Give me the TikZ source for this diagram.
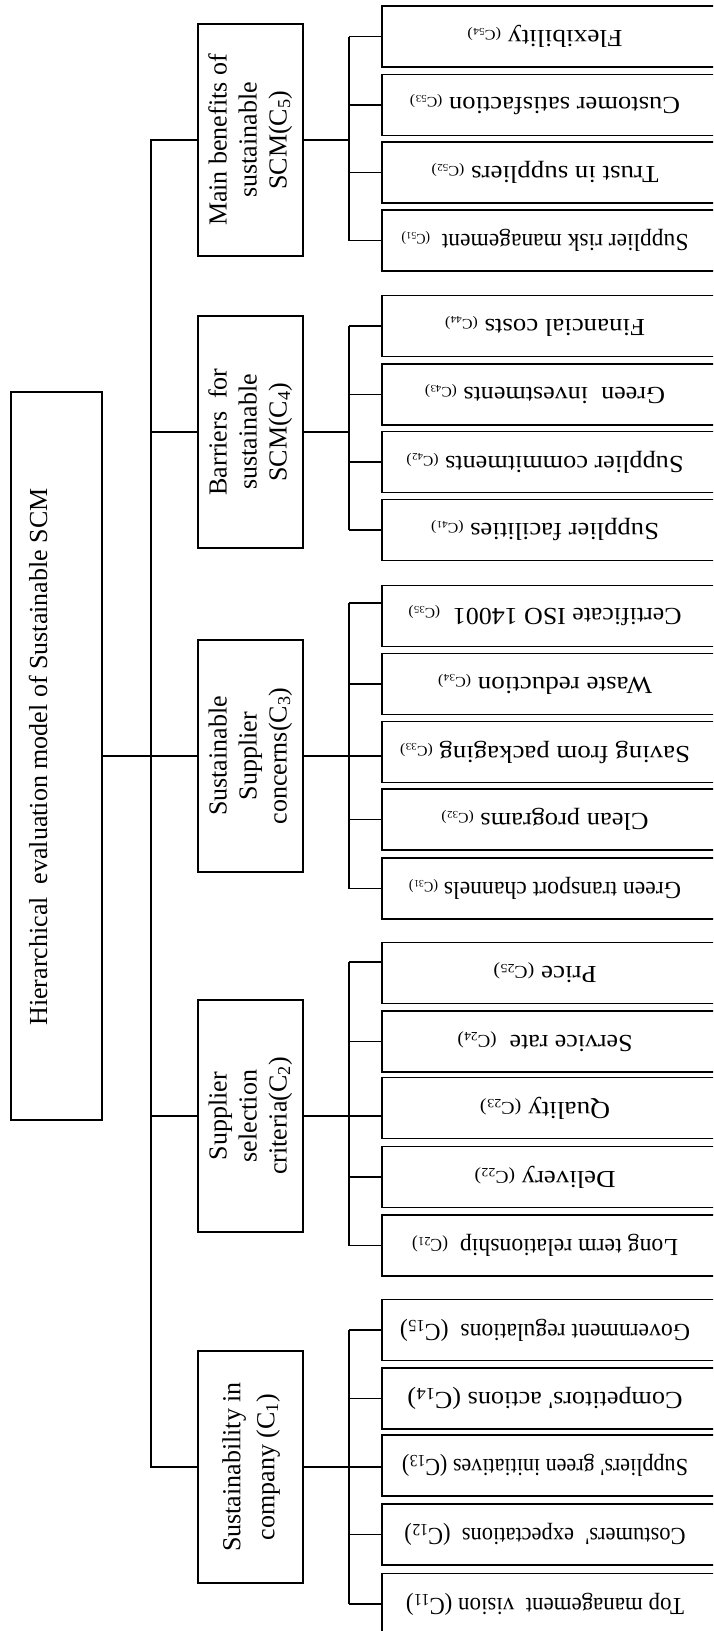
\documentclass[tikz,border=0pt]{standalone}
\usepackage{fontspec}
\setmainfont{Liberation Serif}
\newfontfamily\leaffont{Liberation Serif}
\usetikzlibrary{calc}
\newcommand{\lbA}[1]{(C\textsubscript{#1})}
\newcommand{\lbB}[1]{{\fontsize{18}{18}\selectfont(C\textsubscript{#1})}}
\newcommand{\lbC}[1]{{\fontsize{14.5}{14.5}\selectfont(C\textsubscript{#1})}}
\newcommand{\leaftxt}[2]{\resizebox{#1pt}{\height}{\leaffont\fontsize{24.5}{24.5}\selectfont #2}}
\newcommand{\cattxt}[1]{\rotatebox{90}{\begin{tabular}{@{}c@{}}#1\end{tabular}}}
\begin{document}
\begin{tikzpicture}[x=1pt,y=-1pt,
  box/.style={draw, line width=1.8pt, inner sep=0pt},
  rootbox/.style={box, minimum width=91pt, minimum height=728pt},
  catbox/.style={box, minimum width=105pt, minimum height=232pt, font=\fontsize{26}{30}\selectfont},
  catboxtwo/.style={catbox, font=\fontsize{26}{34}\selectfont},
  leafbox/.style={box, minimum width=340pt, minimum height=61pt},
  leaftext/.style={rotate=180, inner sep=0pt},
  roottext/.style={rotate=90, inner sep=0pt, font=\fontsize{26}{30}\selectfont},
  conn/.style={line width=1.8pt}]
\useasboundingbox (0,0) rectangle (713,1631);
\fill[white] (0,0) rectangle (713,1631);
\clip (0,0) rectangle (713,1631);

% root
\node[rootbox] (root) at (56.5,756) {};
\node[roottext] (roottxt) at (38,757) {Hierarchical\ \ evaluation model of Sustainable SCM};

% categories
\node[catbox] (c5) at (250.5,140) {\cattxt{Main benefits of\\sustainable\\SCM(C\textsubscript{5})}};
\node[catbox] (c4) at (250.5,432) {\cattxt{Barriers\ \ for\\sustainable\\SCM(C\textsubscript{4})}};
\node[catbox] (c3) at (250.5,756) {\cattxt{Sustainable\\Supplier\\concerns(C\textsubscript{3})}};
\node[catbox] (c2) at (250.5,1116) {\cattxt{Supplier\\selection\\criteria(C\textsubscript{2})}};
\node[catboxtwo] (c1) at (250.5,1467) {\cattxt{Sustainability in\\company (C\textsubscript{1})}};

% leaves
\foreach \n/\y/\w/\t in {
  c54/36.5/155/{Flexibility \lbC{54}},
  c53/105/270/{Customer satisfaction \lbC{53}},
  c52/172.5/227/{Trust in suppliers \lbC{52}},
  c51/240.5/287/{Supplier risk management\ \ \lbC{51}},
  c44/326/200/{Financial costs \lbC{44}},
  c43/394.5/240/{Green\ \ investments \lbC{43}},
  c42/462/277/{Supplier commitments \lbC{42}},
  c41/530/228/{Supplier facilities \lbC{41}},
  c35/616/273/{Certificate ISO 14001\ \ \lbC{35}},
  c34/684/214/{Waste reduction \lbC{34}},
  c33/752/290/{Saving from packaging \lbC{33}},
  c32/819.5/207/{Clean programs \lbC{32}},
  c31/888.5/272/{Green transport channels \lbC{31}},
  c25/973/103/{Price \lbB{25}},
  c24/1041.5/175/{Service rate\ \ \lbB{24}},
  c23/1108/130/{Quality \lbB{23}},
  c22/1177/141/{Delivery \lbB{22}},
  c21/1245.5/266/{Long term relationship\ \ \lbB{21}},
  c15/1330/290/{Government regulations\ \ \lbA{15}},
  c14/1398.5/275/{Competitors' actions \lbA{14}},
  c13/1465.5/286/{Suppliers' green initiatives \lbA{13}},
  c12/1534.5/281/{Costumers'\ \ expectations\ \ \lbA{12}},
  c11/1604/278/{Top management\ \ vision \lbA{11}}}{
  \node[leafbox] (\n) at (552,\y) {};
  \node[leaftext] (t\n) at (545,\y) {\leaftxt{\w}{\t}};
}

% trunk
\coordinate (tx) at (151,0);
\coordinate (bx) at (349,0);
\draw[conn] (root.east) -- (c3.west);
\draw[conn] (c5.west) -- (c5.west -| tx) -- (c1.west -| tx) -- (c1.west);
\draw[conn] (c4.west -| tx) -- (c4.west);
\draw[conn] (c2.west -| tx) -- (c2.west);

% shifted branch points
\path ([yshift=13pt]c35.west) coordinate (b35);
\path ([yshift=11pt]c25.west) coordinate (b25);

% buses
\draw[conn] (c5.east) -- (c5.east -| bx);
\draw[conn] (c54.west -| bx) -- (c51.west -| bx);
\draw[conn] (c4.east) -- (c4.east -| bx);
\draw[conn] (c44.west -| bx) -- (c41.west -| bx);
\draw[conn] (c3.east) -- (c3.east -| c33.west);
\draw[conn] (b35 -| bx) -- (c31.west -| bx);
\draw[conn] (c2.east) -- (c2.east -| c23.west);
\draw[conn] (b25 -| bx) -- (c21.west -| bx);
\draw[conn] (c1.east) -- (c1.east -| c13.west);
\draw[conn] (c15.west -| bx) -- (c11.west -| bx);

% branches
\foreach \n in {c54,c53,c52,c51,c44,c43,c42,c41,c34,c32,c31,c24,c22,c21,c15,c14,c12,c11}
  \draw[conn] (\n.west -| bx) -- (\n.west);
\draw[conn] (b35 -| bx) -- (b35);
\draw[conn] (b25 -| bx) -- (b25);
\end{tikzpicture}
\end{document}
